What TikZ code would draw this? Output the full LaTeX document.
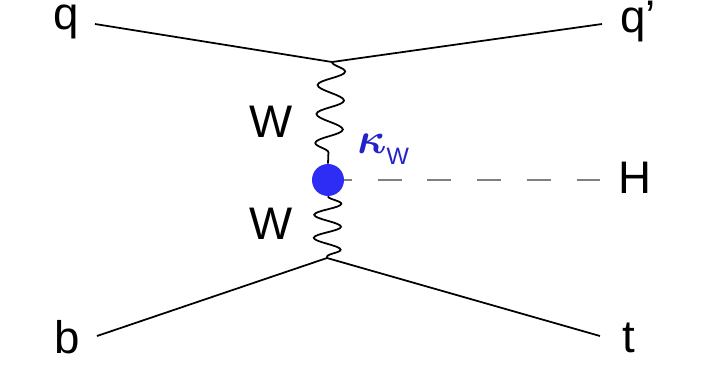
\documentclass[tikz,border=0pt]{standalone}
\usepackage{amsmath}
\usepackage{fontspec}
\setmainfont{Liberation Sans}
\usetikzlibrary{decorations.pathmorphing}
\definecolor{blobblue}{RGB}{45,45,245}
\definecolor{kappablue}{RGB}{35,35,200}
\definecolor{higgsgray}{RGB}{128,128,128}
\begin{document}
\begin{tikzpicture}[x=0.02cm,y=-0.02cm,
  fermion/.style={line width=1pt},
  boson/.style={line width=1pt,decorate,decoration={snake,amplitude=0.27cm,segment length=#1}},
  scalar/.style={higgsgray,line width=1.4pt,dash pattern=on 13.6pt off 14.7pt},
  blob/.style={circle,fill=blobblue,minimum size=0.64cm,inner sep=0pt},
  lbl/.style={font=\fontsize{26}{30}\selectfont,inner sep=0pt}]
  \useasboundingbox (0,0) rectangle (701,376);

  % vertices and free ends
  \coordinate (vtop) at (332,62);
  \coordinate (vbot) at (327,258);
  \coordinate (kv) at (328,180);
  \coordinate (qin) at (95,24);
  \coordinate (qout) at (602,24);
  \coordinate (bin) at (97,336);
  \coordinate (tout) at (600,336);
  \coordinate (hout) at (600,180);

  % external particles
  \node[lbl] (q) at (66,22) {q};
  \node[lbl] (qp) at (638,22) {q’};
  \node[lbl] (H) at (635,178) {H};
  \node[lbl] (b) at (67,337) {b};
  \node[lbl] (t) at (629,338) {t};

  % quark lines
  \draw[fermion] (qin) -- (vtop) -- (qout);
  \draw[fermion] (bin) -- (vbot) -- (tout);

  % Higgs line, under the coupling blob
  \draw[scalar] (kv) -- (hout);
  \node[blob] (kw) at (kv) {};

  % W propagators
  \draw[boson=0.58cm] (vtop) -- (kw.north);
  \draw[boson=0.46cm] (kw.south) -- (vbot);
  \node[lbl] (w1) at (271,122) {W};
  \node[lbl] (w2) at (271,224) {W};

  % coupling label
  \node[anchor=base west,inner sep=0pt,text=kappablue] (kappa) at (357,153)
    {\fontsize{29}{30}\selectfont$\boldsymbol{\kappa}$\raisebox{-6.8pt}{\fontsize{13.5}{15}\selectfont W}};
\end{tikzpicture}
\end{document}
